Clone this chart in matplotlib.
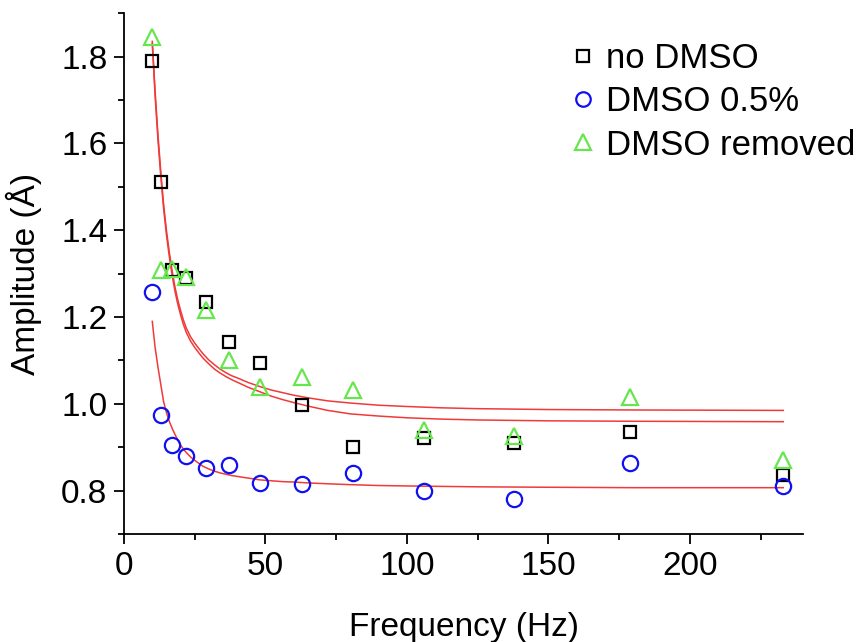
import matplotlib
matplotlib.use("Agg")
import matplotlib.pyplot as plt
from matplotlib.ticker import MultipleLocator

plt.rcParams['font.family'] = ['Liberation Sans', 'DejaVu Sans']

# Measured data
freq = [10, 13, 17, 22, 29, 37, 48, 63, 81, 106, 138, 179, 233]
no_dmso = [1.789, 1.51, 1.308, 1.29, 1.235, 1.143, 1.094, 0.998, 0.901, 0.922, 0.910, 0.936, 0.837]
dmso_05 = [1.257, 0.975, 0.906, 0.880, 0.853, 0.860, 0.818, 0.816, 0.841, 0.800, 0.782, 0.864, 0.812]
dmso_removed = [1.846, 1.308, 1.31, 1.292, 1.216, 1.100, 1.040, 1.062, 1.032, 0.940, 0.926, 1.017, 0.871]

# Fit curves
fit_x = [10, 11, 12, 13, 14, 15, 16, 17, 18, 19, 20, 21, 22, 23.5, 25, 26.5, 28, 30, 32, 34, 36, 38, 40,
         44, 48, 52, 56, 60, 65, 72, 80, 90, 100, 112, 125, 150, 180, 233]
fit_removed = [1.835, 1.72, 1.62, 1.535, 1.46, 1.40, 1.35, 1.307, 1.27, 1.24, 1.215, 1.193, 1.175, 1.155,
               1.14, 1.127, 1.115, 1.101, 1.09, 1.080, 1.072, 1.065, 1.06, 1.049, 1.040, 1.032, 1.026,
               1.020, 1.014, 1.007, 1.002, 0.997, 0.994, 0.991, 0.989, 0.987, 0.986, 0.985]
fit_no = [1.83, 1.71, 1.61, 1.525, 1.45, 1.39, 1.34, 1.297, 1.26, 1.23, 1.205, 1.183, 1.165, 1.145,
          1.13, 1.117, 1.105, 1.092, 1.08, 1.071, 1.063, 1.056, 1.05, 1.038, 1.028, 1.018, 1.010,
          1.003, 0.995, 0.985, 0.977, 0.972, 0.968, 0.965, 0.963, 0.961, 0.960, 0.959]
fit_dmso = [1.19, 1.13, 1.085, 1.045, 1.005, 0.98, 0.96, 0.944, 0.93, 0.917, 0.905, 0.896, 0.888, 0.878,
            0.870, 0.863, 0.856, 0.850, 0.845, 0.841, 0.838, 0.835, 0.833, 0.829, 0.825, 0.823, 0.821,
            0.820, 0.818, 0.816, 0.814, 0.812, 0.811, 0.810, 0.809, 0.808, 0.807, 0.807]

labels = ["no DMSO", "DMSO 0.5%", "DMSO removed"]

fig = plt.figure(figsize=(8.64, 6.42), dpi=100)
ax = fig.add_axes([0.1435, 0.168, 0.786, 0.8115])

red = '#f03a3a'
ax.plot(fit_x, fit_removed, color=red, lw=1.1, zorder=2)
ax.plot(fit_x, fit_no, color=red, lw=1.1, zorder=2)
ax.plot(fit_x, fit_dmso, color=red, lw=1.1, zorder=2)

green = '#66e64d'
ax.plot(freq, no_dmso, ls='none', marker='s', ms=9, mfc='none', mec='black', mew=1.6, label=labels[0], zorder=3)
ax.plot(freq, dmso_05, ls='none', marker='o', ms=11, mfc='none', mec='#1010f0', mew=1.6, label=labels[1], zorder=3)
ax.plot(freq, dmso_removed, ls='none', marker='^', ms=12, mfc='none', mec=green, mew=1.6, label=labels[2], zorder=4)

ax.set_xlim(0, 240)
ax.set_ylim(0.7, 1.9)
ax.xaxis.set_major_locator(MultipleLocator(50))
ax.xaxis.set_minor_locator(MultipleLocator(25))
ax.yaxis.set_major_locator(MultipleLocator(0.2))
ax.yaxis.set_minor_locator(MultipleLocator(0.1))
ax.yaxis.set_major_formatter(matplotlib.ticker.FormatStrFormatter('%.1f'))

for s in ['top', 'right']:
    ax.spines[s].set_visible(False)
for s in ['left', 'bottom']:
    ax.spines[s].set_linewidth(1.3)

ax.tick_params(which='major', direction='out', length=7, width=1.3, labelsize=24, pad=5)
ax.tick_params(which='minor', direction='out', length=4.5, width=1.3)

ax.set_xlabel("Frequency (Hz)", fontsize=24, labelpad=22)
ax.set_ylabel("Amplitude (Å)", fontsize=24, labelpad=14)

leg = ax.legend(loc='upper left', bbox_to_anchor=(0.62, 0.985), frameon=False, fontsize=25,
                handletextpad=0.15, handlelength=1.0, labelspacing=0.3, borderaxespad=0.2,
                markerscale=0.95)

fig.savefig("out.png", dpi=100)
